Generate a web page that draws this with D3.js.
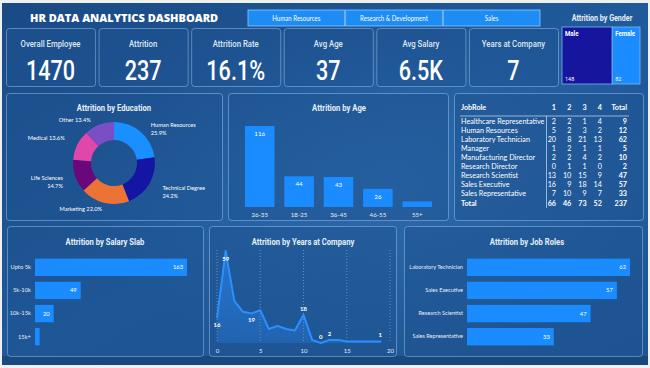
<!DOCTYPE html>
<html><head><meta charset="utf-8">
<script src="https://cdn.jsdelivr.net/npm/d3@7/dist/d3.min.js"></script>
<style>
html,body{margin:0;padding:0;background:#eef0f2;}
svg{display:block;}
</style></head>
<body>
<svg id="c" width="650" height="368"></svg>
<script>
// ---------------- DATA ----------------
const dashTitle = "HR DATA ANALYTICS DASHBOARD";
const departments = ["Human Resources", "Research & Development", "Sales"];
const kpiLabels = ["Overall Employee", "Attrition", "Attrition Rate", "Avg Age", "Avg Salary", "Years at Company"];
const kpiValues = ["1470", "237", "16.1%", "37", "6.5K", "7"];
const genderCats = ["Male", "Female"];
const genderValues = [148, 82];
const eduCats = ["Human Resources", "Technical Degree", "Marketing", "Life Sciences", "Medical", "Other"];
const eduValues = [25.9, 24.2, 22.0, 14.7, 13.6, 13.4];
const eduColors = ["#1a8fff", "#1515a3", "#ec7236", "#6b077d", "#e146ab", "#7a4fc6"];
const ageCats = ["26-35", "18-25", "36-45", "46-55", "55+"];
const ageValues = [116, 44, 43, 26, 8];
const tableRoles = ["Healthcare Representative", "Human Resources", "Laboratory Technician", "Manager",
  "Manufacturing Director", "Research Director", "Research Scientist", "Sales Executive", "Sales Representative"];
const tableCols = ["1", "2", "3", "4"];
const tableValues = [[2,2,1,4],[5,2,3,2],[20,8,21,13],[1,2,1,1],[2,2,4,2],[0,1,1,0],[13,10,15,9],[16,9,18,14],[7,10,9,7]];
const salaryCats = ["Upto 5k", "5k-10k", "10k-15k", "15k+"];
const salaryValues = [163, 49, 20, 5];
const yearsAt = [0,1,2,3,4,5,6,7,8,9,10,11,12,13,14,15,16,17,18,19];
const yearsAttrition = [16,59,27,20,19,21,9,11,9,8,18,2,0,2,2,1,1,1,1,1];
const yearsLabelled = [0,1,4,10,12,13,19];
const yearTicks = [0,5,10,15,20];
const jobCats = ["Laboratory Technician", "Sales Executive", "Research Scientist", "Sales Representative"];
const jobValues = [62, 57, 47, 33];

// ---------------- STYLE ----------------
const BAR = "#1a8cff";
const HEAD = "Roboto,'Noto Sans',sans-serif";
const UI = "Lato,'Open Sans',sans-serif";

const svg = d3.select("#c");
const defs = svg.append("defs");
const bg = defs.append("linearGradient").attr("id","bg").attr("x1","0").attr("y1","0").attr("x2","1").attr("y2","1");
bg.append("stop").attr("offset","0").attr("stop-color","#1a4a86");
bg.append("stop").attr("offset","0.5").attr("stop-color","#205a9a");
bg.append("stop").attr("offset","1").attr("stop-color","#1e5592");
const glow = defs.append("radialGradient").attr("id","glow").attr("cx","0.6").attr("cy","0.5").attr("r","0.5");
glow.append("stop").attr("offset","0").attr("stop-color","#3a7cc0").attr("stop-opacity",0.5);
glow.append("stop").attr("offset","1").attr("stop-color","#3a7cc0").attr("stop-opacity",0);

svg.append("rect").attr("x",2).attr("y",3).attr("width",646).attr("height",362).attr("fill","url(#bg)");
svg.append("rect").attr("x",2).attr("y",3).attr("width",646).attr("height",362).attr("fill","url(#glow)");
svg.append("rect").attr("x",2).attr("y",356).attr("width",646).attr("height",9).attr("fill","#143d6e").attr("opacity",0.6);

// horizontal squeeze to imitate the condensed dashboard font
function squeeze(sel, f){
  sel.attr("transform", function(){
    const x = +d3.select(this).attr("x"); return `translate(${x},0) scale(${f},1) translate(${-x},0)`;
  });
}
function panel(x,y,w,h){
  svg.append("rect").attr("x",x+0.5).attr("y",y+0.5).attr("width",w).attr("height",h).attr("rx",3)
    .attr("fill","#1d528f").attr("fill-opacity",0.5)
    .attr("stroke","#8fb8e6").attr("stroke-opacity",0.55).attr("stroke-width",1);
}
function title(x,y,t){
  svg.append("text").attr("x",x).attr("y",y).attr("text-anchor","middle").attr("fill","#e6eef8")
    .attr("font-family",HEAD).attr("font-weight","bold").attr("font-size",8.8).text(t).call(squeeze,0.87);
}

// ---------------- HEADER ----------------
svg.append("text").attr("x",30).attr("y",22).attr("fill","#ffffff").attr("font-family","'Open Sans',sans-serif")
  .attr("font-weight",800).attr("font-size",11).text(dashTitle);

const deptX = d3.scaleBand().domain(departments).range([248,540]).paddingInner(0.01);
const btn = svg.append("g").selectAll("g").data(departments).join("g");
btn.append("rect").attr("x",d=>deptX(d)).attr("y",10).attr("width",deptX.bandwidth()).attr("height",16)
  .attr("fill","#1e8cf5").attr("stroke","#8cc8ff").attr("stroke-width",0.8);
btn.append("text").attr("x",d=>deptX(d)+deptX.bandwidth()/2).attr("y",21).attr("text-anchor","middle")
  .attr("fill","#ffffff").attr("font-family",UI).attr("font-size",6.8).text(d=>d).call(squeeze,0.9);

// Gender treemap
svg.append("text").attr("x",602).attr("y",21).attr("text-anchor","middle").attr("fill","#e6eef8")
  .attr("font-family",HEAD).attr("font-weight","bold").attr("font-size",8.2).text("Attrition by Gender").call(squeeze,0.87);
const groot = d3.hierarchy({children: genderCats.map((c,i)=>({name:c, value:genderValues[i]}))}).sum(d=>d.value||0);
d3.treemap().tile(d3.treemapSliceDice).size([78,57]).paddingInner(0)(groot);
const gcol = d3.scaleOrdinal().domain(genderCats).range(["#15159e","#1a8cff"]);
const gl = svg.append("g").attr("transform","translate(562,27)").selectAll("g").data(groot.leaves()).join("g");
gl.append("rect").attr("x",d=>d.x0).attr("y",d=>d.y0).attr("width",d=>d.x1-d.x0).attr("height",d=>d.y1-d.y0)
  .attr("fill",d=>gcol(d.data.name)).attr("stroke","#7fb6ee").attr("stroke-width",0.8);
gl.append("text").attr("x",d=>d.x0+3).attr("y",d=>d.y0+9).attr("fill","#fff").attr("font-family",HEAD)
  .attr("font-weight","bold").attr("font-size",7).text(d=>d.data.name).call(squeeze,0.87);
gl.append("text").attr("x",d=>d.x0+3).attr("y",d=>d.y1-3).attr("fill","#fff").attr("font-family",HEAD)
  .attr("font-size",5.5).text(d=>d.data.value);

// ---------------- KPI CARDS ----------------
const kx = d3.scaleBand().domain(kpiLabels).range([6,558]).paddingInner(0.038);
kpiLabels.forEach(d=>panel(kx(d),28,kx.bandwidth(),58));
const kg = svg.append("g").selectAll("g").data(kpiLabels).join("g");
kg.append("text").attr("x",d=>kx(d)+kx.bandwidth()/2).attr("y",47).attr("text-anchor","middle")
  .attr("fill","#dfe8f4").attr("font-family",HEAD).attr("font-weight",500).attr("font-size",9.5).text(d=>d).call(squeeze,0.82);
kg.append("text").attr("x",d=>kx(d)+kx.bandwidth()/2).attr("y",80).attr("text-anchor","middle")
  .attr("fill","#ffffff").attr("font-family",HEAD).attr("font-weight",500).attr("font-size",27).text((d,i)=>kpiValues[i]).call(squeeze,0.8);

// ---------------- EDUCATION DONUT ----------------
panel(6,93,216,127);
title(114,111,"Attrition by Education");
const pie = d3.pie().sort(null).value(d=>d)(eduValues);
const arc = d3.arc().innerRadius(23).outerRadius(41);
const labArc = d3.arc().innerRadius(56).outerRadius(56);
const dg = svg.append("g").attr("transform","translate(114,163)");
dg.selectAll("path").data(pie).join("path").attr("d",arc).attr("fill",(d,i)=>eduColors[i]);
const lab = dg.selectAll("g.l").data(pie).join("g").attr("class","l");
lab.each(function(d,i){
  const c = labArc.centroid(d);
  const mid = (d.startAngle+d.endAngle)/2;
  const g = d3.select(this);
  const two = (i===0||i===1||i===3);
  const anchor = mid < Math.PI ? "start" : "end";
  const t = g.append("text").attr("fill","#fff").attr("font-family",UI).attr("font-size",6.2).attr("text-anchor",anchor);
  if (two){
    const y0 = Math.max(c[1]-1, -36);
    const xx = anchor==="end" ? c[0]+2 : c[0];
    t.append("tspan").attr("x",xx).attr("y",y0).text(eduCats[i]);
    t.append("tspan").attr("x",xx).attr("y",y0+8).text(eduValues[i].toFixed(1)+"%");
    t.attr("x",xx);
  } else {
    const y = Math.min(Math.max(c[1]+2, -41), 48);
    t.attr("x",c[0] + (y!==c[1]+2 && c[1]<0 ? -4 : 0) + 1).attr("y",y).text(eduCats[i]+" "+eduValues[i].toFixed(1)+"%");
  }
  t.call(squeeze,0.92);
});

// ---------------- AGE BARS ----------------
panel(228,93,220,127);
title(339,111,"Attrition by Age");
const ax = d3.scaleBand().domain(ageCats).range([241,436]).paddingInner(0.25).paddingOuter(0.1);
const ay = d3.scaleLinear().domain([0,116]).range([207,126]);
const ag = svg.append("g");
ag.selectAll("rect").data(ageValues).join("rect").attr("x",(d,i)=>ax(ageCats[i])).attr("y",d=>ay(d))
  .attr("width",ax.bandwidth()).attr("height",d=>ay(0)-ay(d)).attr("fill",BAR);
ag.selectAll("text.v").data(ageValues.filter(v=>v>=15)).join("text").attr("class","v")
  .attr("x",(d,i)=>ax(ageCats[i])+ax.bandwidth()/2).attr("y",d=>ay(d)+10).attr("text-anchor","middle")
  .attr("fill","#fff").attr("font-family",UI).attr("font-size",6.2).text(d=>d);
const axAge = svg.append("g").attr("transform","translate(0,207)").call(d3.axisBottom(ax).tickSize(0).tickPadding(6));
axAge.select(".domain").remove();
axAge.selectAll("text").attr("fill","#e6eef8").attr("font-family",UI).attr("font-size",6.2);

// ---------------- TABLE ----------------
panel(454,93,189,127);
const rowY = d3.scaleBand().domain(d3.range(tableRoles.length+1)).range([116.5,207.5]);
const colRight = c => c==="Total" ? 627 : 556 + tableCols.indexOf(c)*15.3;
const tg = svg.append("g").attr("font-family",UI).attr("font-size",7.2).attr("fill","#fff");
tg.append("text").attr("x",461).attr("y",110).attr("font-weight","bold").text("JobRole");
tableCols.concat(["Total"]).forEach(c=>{
  tg.append("text").attr("x",colRight(c)).attr("y",110).attr("text-anchor","end").attr("font-weight","bold").text(c);
});
tg.append("line").attr("x1",460).attr("x2",629).attr("y1",116).attr("y2",116).attr("stroke","#cfe0f3").attr("stroke-width",0.7);
tg.append("line").attr("x1",546.5).attr("x2",546.5).attr("y1",116).attr("y2",208).attr("stroke","#cfe0f3").attr("stroke-width",0.7);
const rows = tableRoles.map((r,i)=>({name:r, vals:tableValues[i], total:d3.sum(tableValues[i]), bold:false}));
rows.push({name:"Total", vals:tableCols.map((c,j)=>d3.sum(tableValues,v=>v[j])), total:d3.sum(tableValues.flat()), bold:true});
rows.forEach((r,i)=>{
  const y = rowY(i)+rowY.bandwidth()-2;
  tg.append("text").attr("x",461).attr("y",y).attr("font-weight",r.bold?"bold":null).text(r.name);
  r.vals.forEach((v,j)=>tg.append("text").attr("x",colRight(tableCols[j])).attr("y",y).attr("text-anchor","end")
    .attr("font-weight",r.bold?"bold":null).text(v));
  tg.append("text").attr("x",colRight("Total")).attr("y",y).attr("text-anchor","end").attr("font-weight","bold").text(r.total);
});

// ---------------- SALARY SLAB ----------------
panel(7,226,196,130);
title(105,245,"Attrition by Salary Slab");
const sy = d3.scaleBand().domain(salaryCats).range([254,350]).paddingInner(0.25).paddingOuter(0.2);
const sx = d3.scaleLinear().domain([0,163]).range([35,187]);
const sg = svg.append("g");
sg.selectAll("rect").data(salaryValues).join("rect").attr("x",sx(0)).attr("y",(d,i)=>sy(salaryCats[i]))
  .attr("width",d=>sx(d)-sx(0)).attr("height",sy.bandwidth()).attr("fill",BAR);
sg.selectAll("text.v").data(salaryValues.filter(v=>v>=15)).join("text").attr("class","v")
  .attr("x",d=>sx(d)-4).attr("y",(d,i)=>sy(salaryCats[i])+sy.bandwidth()/2+2).attr("text-anchor","end")
  .attr("fill","#fff").attr("font-family",UI).attr("font-size",5.8).text(d=>d);
const sAx = svg.append("g").attr("transform",`translate(${sx(0)},0)`).call(d3.axisLeft(sy).tickSize(0).tickPadding(4));
sAx.select(".domain").remove();
sAx.selectAll("text").attr("fill","#e6eef8").attr("font-family",UI).attr("font-size",5.8);

// ---------------- YEARS LINE ----------------
panel(209,226,187,130);
title(303,245,"Attrition by Years at Company");
const lx = d3.scaleLinear().domain([0,20]).range([217,390]);
const ly = d3.scaleLinear().domain([0,59]).range([343,251]);
const lg = svg.append("g");
lg.selectAll("line.g").data(yearTicks).join("line").attr("class","g").attr("x1",d=>lx(d)).attr("x2",d=>lx(d))
  .attr("y1",250).attr("y2",343).attr("stroke","#c9dcf2").attr("stroke-opacity",0.6).attr("stroke-width",0.7).attr("stroke-dasharray","1,2");
const pts = yearsAt.map((y,i)=>[y, yearsAttrition[i]]);
const areaG = defs.append("linearGradient").attr("id","ar").attr("x1",0).attr("y1",0).attr("x2",0).attr("y2",1);
areaG.append("stop").attr("offset",0).attr("stop-color","#2a8cff").attr("stop-opacity",0.55);
areaG.append("stop").attr("offset",1).attr("stop-color","#2a8cff").attr("stop-opacity",0.25);
lg.append("path").datum(pts).attr("d",d3.area().x(d=>lx(d[0])).y0(ly(0)).y1(d=>ly(d[1]))).attr("fill","url(#ar)");
lg.append("path").datum(pts).attr("d",d3.line().x(d=>lx(d[0])).y(d=>ly(d[1]))).attr("fill","none")
  .attr("stroke","#2a90ff").attr("stroke-width",2).attr("stroke-linejoin","round");
const below = new Set([0,1,4]);
lg.selectAll("text.v").data(yearsLabelled).join("text").attr("class","v")
  .attr("x",d=>lx(d)+(d===19?-1:0)).attr("y",d=>below.has(d)? ly(yearsAttrition[d])+ (d===1?10:9) : ly(yearsAttrition[d])-4)
  .attr("text-anchor","middle").attr("fill","#fff").attr("font-family",UI).attr("font-weight","bold").attr("font-size",6)
  .text(d=>yearsAttrition[d]);
const lAx = svg.append("g").attr("transform","translate(0,343)").call(d3.axisBottom(lx).tickValues(yearTicks).tickSize(0).tickPadding(6));
lAx.select(".domain").remove();
lAx.selectAll("text").attr("fill","#e6eef8").attr("font-family",UI).attr("font-size",6);

// ---------------- JOB ROLES ----------------
panel(404,226,238,130);
title(527,245,"Attrition by Job Roles");
const jy = d3.scaleBand().domain(jobCats).range([254,350]).paddingInner(0.25).paddingOuter(0.2);
const jx = d3.scaleLinear().domain([0,62]).range([467,630]);
const jg = svg.append("g");
jg.selectAll("rect").data(jobValues).join("rect").attr("x",jx(0)).attr("y",(d,i)=>jy(jobCats[i]))
  .attr("width",d=>jx(d)-jx(0)).attr("height",jy.bandwidth()).attr("fill",BAR);
jg.selectAll("text.v").data(jobValues).join("text").attr("class","v")
  .attr("x",d=>jx(d)-4).attr("y",(d,i)=>jy(jobCats[i])+jy.bandwidth()/2+2).attr("text-anchor","end")
  .attr("fill","#fff").attr("font-family",UI).attr("font-size",5.8).text(d=>d);
const jAx = svg.append("g").attr("transform",`translate(${jx(0)},0)`).call(d3.axisLeft(jy).tickSize(0).tickPadding(4));
jAx.select(".domain").remove();
jAx.selectAll("text").attr("fill","#e6eef8").attr("font-family",UI).attr("font-size",5.6);
</script>
</body></html>
